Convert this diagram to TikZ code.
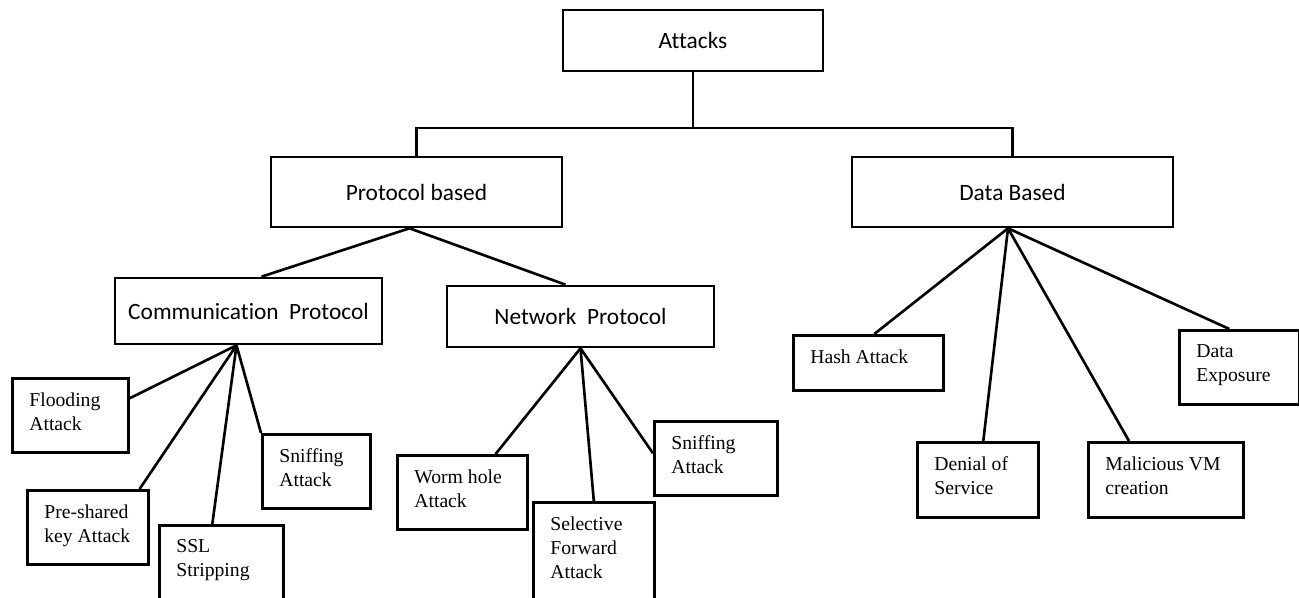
\documentclass[tikz,border=0pt]{standalone}
\usepackage{fontspec}
\setmainfont{Liberation Serif}
\newfontfamily\calfont[Ligatures=NoCommon]{Carlito}
\tikzset{
  topbox/.style={draw, line width=1.5pt, rectangle, font=\calfont\fontsize{13.3}{16}\selectfont},
  leafbox/.style={draw, line width=1.5pt, rectangle, anchor=north west},
  leaftext/.style={anchor=north west, inner sep=0pt, align=left, xshift=0.36cm, yshift=-0.31cm,
    font=\fontsize{11.2}{13.6}\selectfont},
  link/.style={line width=1.5pt}
}
\begin{document}
\begin{tikzpicture}[x=0.02cm, y=-0.02cm]
        \clip (0,0) rectangle (1299,598);

        \node[topbox, minimum width=5.2cm, minimum height=1.22cm] (attacks) at (693,40.5) {Attacks};
        \node[topbox, minimum width=5.82cm, minimum height=1.4cm] (proto) at (416.5,192) {Protocol based};
        \node[topbox, minimum width=6.42cm, minimum height=1.4cm] (data) at (1012.5,192) {Data Based};
        \node[topbox, minimum width=5.34cm, minimum height=1.32cm] (comm) at (248.5,311) {Communication\ \ Protocol};
        \node[topbox, minimum width=5.34cm, minimum height=1.22cm] (net) at (580.5,316.5) {Network\ \ Protocol};

        % communication protocol attacks
        \node[leafbox, minimum width=2.32cm, minimum height=1.48cm, label={[leaftext]north west:Flooding\\Attack}] (flood) at (11,377) {};
        \node[leafbox, minimum width=2.42cm, minimum height=1.48cm, label={[leaftext]north west:Pre-shared\\key Attack}] (psk) at (26,489) {};
        \node[leafbox, minimum width=2.48cm, minimum height=1.52cm, label={[leaftext]north west:SSL\\Stripping}] (ssl) at (158,524) {};
        \node[leafbox, minimum width=2.16cm, minimum height=1.48cm, label={[leaftext]north west:Sniffing\\Attack}] (sniffc) at (261,433) {};

        % network protocol attacks
        \node[leafbox, minimum width=2.6cm, minimum height=1.48cm, label={[leaftext]north west:Worm hole\\Attack}] (worm) at (396,454) {};
        \node[leafbox, minimum width=2.42cm, minimum height=1.98cm, label={[leaftext]north west:Selective\\Forward\\Attack}] (selfwd) at (532,501) {};
        \node[leafbox, minimum width=2.46cm, minimum height=1.48cm, label={[leaftext]north west:Sniffing\\Attack}] (sniffn) at (653,420) {};

        % data based attacks
        \node[leafbox, minimum width=3.0cm, minimum height=1.1cm, label={[leaftext]north west:Hash Attack}] (hash) at (792,334) {};
        \node[leafbox, minimum width=2.42cm, minimum height=1.5cm, label={[leaftext]north west:Denial of\\Service}] (dos) at (916,441) {};
        \node[leafbox, minimum width=3.1cm, minimum height=1.5cm, label={[leaftext]north west:Malicious VM\\creation}] (malvm) at (1087,441) {};
        \node[leafbox, minimum width=2.4cm, minimum height=1.48cm, label={[leaftext]north west:Data\\Exposure}] (expo) at (1178,329) {};

        \coordinate (bar) at (693,128);
        \draw[link] (attacks.south) -- (bar);
        \draw[link] (proto.north) |- (bar) -| (data.north);

        \draw[link] ([xshift=-0.14cm]proto.south) -- ([xshift=0.26cm]comm.north);
        \draw[link] ([xshift=-0.14cm]proto.south) -- ([xshift=-0.3cm]net.north);

        \draw[link] ([xshift=-0.24cm]comm.south) -- ([yshift=0.34cm]flood.east);
        \draw[link] ([xshift=-0.24cm]comm.south) -- ([xshift=-0.2cm]psk.north east);
        \draw[link] ([xshift=-0.24cm]comm.south) -- ([xshift=-0.18cm]ssl.north);
        \draw[link] ([xshift=-0.24cm]comm.south) -- (sniffc.north west);

        \draw[link] (net.south) -- ([xshift=-0.66cm]worm.north east);
        \draw[link] (net.south) -- (selfwd.north);
        \draw[link] (net.south) -- ([yshift=0.1cm]sniffn.west);

        \draw[link] ([xshift=-0.09cm]data.south) -- ([xshift=0.12cm]hash.north);
        \draw[link] ([xshift=-0.09cm]data.south) -- ([xshift=0.11cm]dos.north);
        \draw[link] ([xshift=-0.09cm]data.south) -- ([xshift=0.84cm]malvm.north west);
        \draw[link] ([xshift=-0.09cm]data.south) -- ([xshift=-0.2cm]expo.north);
    \end{tikzpicture}
\end{document}
